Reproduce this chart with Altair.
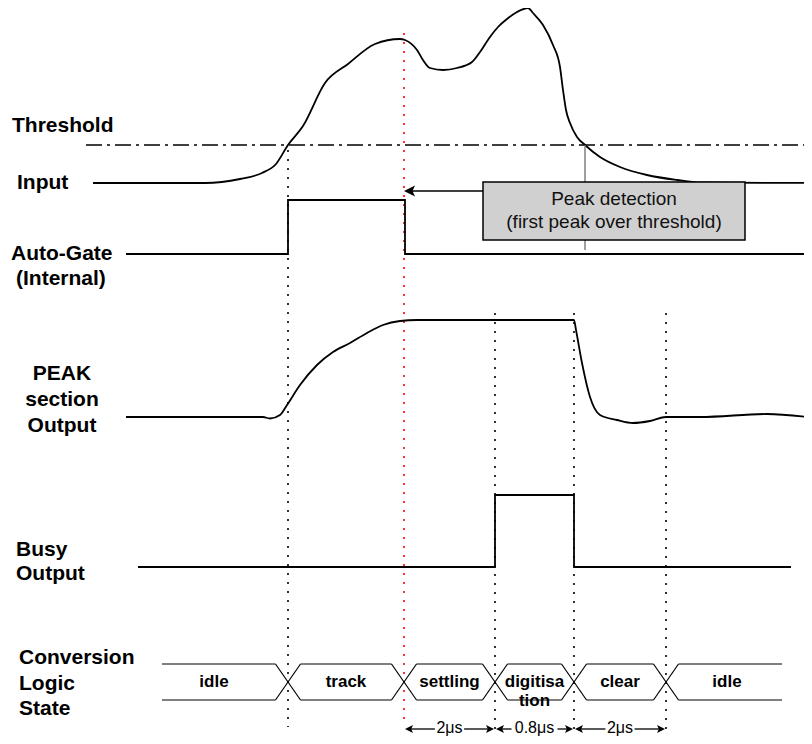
import altair as alt
import pandas as pd

FONT = "Liberation Sans"

# ---------------- data ----------------
# Input signal (time, level)
input_t = [93, 205, 240, 262, 276, 288, 303, 325, 348, 375, 400, 405, 417, 423, 430, 443,
           457, 472, 480, 490, 498, 507, 517, 528, 533, 543, 553, 560, 563, 566, 570, 577,
           585, 600, 620, 647, 677, 700, 812]
input_v = [183, 183, 179, 173, 164, 145, 126, 83, 64, 44, 39, 40, 50, 60, 68, 70,
           68, 62, 52, 37, 27, 19, 12, 8, 13, 25, 45, 67, 90, 110, 123, 137,
           145, 157, 167, 175, 180, 182.5, 183]

threshold_level = 145
threshold_from, threshold_to = 86, 812

# Auto-Gate (internal)
gate_t = [126, 288, 288, 405, 405, 807]
gate_v = [254, 254, 200, 200, 254, 254]

# PEAK section output
peak_t = [126, 263, 270, 280, 287, 300, 317, 333, 350, 367, 383, 400, 417, 574, 576, 582,
          590, 600, 617, 633, 650, 666, 700, 767, 807]
peak_v = [417, 417, 418.5, 415, 405, 385, 365, 352, 343, 333, 325, 321, 320, 320, 330, 363,
          397, 415, 420, 423, 421, 417, 417, 414, 417]

# Busy output
busy_t = [138, 495, 495, 574, 574, 791]
busy_v = [567, 567, 495, 495, 567, 567]

# Conversion logic states
state_names = ["idle", "track", "settling", "digitisa\ntion", "clear", "idle"]
state_edges = [162, 288, 404, 495, 574, 666, 782]
bus_top, bus_bottom = 664, 700

# Event markers
black_marks_t = [288, 495, 574, 666]
black_marks_top = [150, 313, 313, 313]
black_marks_bottom = [727, 735, 735, 735]
red_mark_t, red_mark_top, red_mark_bottom = 404, 33, 725

# Peak detection annotation
detect_t = 585
detect_from, detect_to = 145, 250
box_t = [483, 745]
box_v = [182, 240]
box_lines = ["Peak detection", "(first peak over threshold)"]
box_line_v = [199, 222]
arrow_v = 191
arrow_tip = 404

# Timing intervals
timing_from = [404, 495, 574]
timing_to = [495, 574, 666]
timing_labels = ["2\u03bcs", "0.8\u03bcs", "2\u03bcs"]
timing_v = 729
timing_text_v = 733

# Row labels
row_labels = ["Threshold", "Input", "Auto-Gate", "(Internal)"]
row_labels_x = [12, 17, 11, 16]
row_labels_y = [126, 183, 254, 279]
peak_labels = ["PEAK", "section", "Output"]
peak_labels_y = [374, 400, 426]
busy_labels = ["Busy", "Output"]
busy_labels_y = [550, 574]
conv_labels = ["Conversion", "Logic", "State"]
conv_labels_y = [658, 684, 709]

# ---------------- helpers ----------------
XS = alt.Scale(domain=[8, 804], nice=False, zero=False)
YS = alt.Scale(domain=[8, 736], nice=False, zero=False, reverse=True)


def X(f="x"):
    return alt.X(f"{f}:Q", scale=XS, axis=None)


def Y(f="y"):
    return alt.Y(f"{f}:Q", scale=YS, axis=None)


def series(t, v):
    return pd.DataFrame({"x": t, "y": v, "i": range(len(t))})


def line(df, interp="linear", width=1.8, color="black", **kw):
    return alt.Chart(df).mark_line(interpolate=interp, strokeWidth=width, color=color, **kw).encode(
        x=X(), y=Y(), order=alt.Order("i:Q"))


layers = []

# threshold
thr = pd.DataFrame({"x": [threshold_from], "x2": [threshold_to], "y": [threshold_level]})
layers.append(alt.Chart(thr).mark_rule(color="black", strokeWidth=1.4, strokeDash=[16, 5, 3, 5]).encode(
    x=X(), x2=alt.X2("x2:Q"), y=Y()))

# dotted event markers
marks = pd.DataFrame({"x": black_marks_t + [red_mark_t],
                      "y": black_marks_top + [red_mark_top],
                      "y2": black_marks_bottom + [red_mark_bottom],
                      "c": ["black"] * len(black_marks_t) + ["red"]})
layers.append(alt.Chart(marks).mark_rule(strokeWidth=1.6, strokeDash=[2, 7]).encode(
    x=X(), y=Y(), y2=alt.Y2("y2:Q"), color=alt.Color("c:N", scale=None)))

# input curve
layers.append(line(series(input_t, input_v), interp="monotone", width=1.8))

# detection line
det = pd.DataFrame({"x": [detect_t], "y": [detect_from], "y2": [detect_to]})
layers.append(alt.Chart(det).mark_rule(color="#777777", strokeWidth=1.4).encode(
    x=X(), y=Y(), y2=alt.Y2("y2:Q")))

# box
box = pd.DataFrame({"x": [box_t[0]], "x2": [box_t[1]], "y": [box_v[0]], "y2": [box_v[1]]})
layers.append(alt.Chart(box).mark_rect(fill="#d0d0d0", stroke="black", strokeWidth=1.5).encode(
    x=X(), x2=alt.X2("x2:Q"), y=Y(), y2=alt.Y2("y2:Q")))
boxtxt = pd.DataFrame({"x": [(box_t[0] + box_t[1]) / 2] * 2, "y": box_line_v, "t": box_lines})
layers.append(alt.Chart(boxtxt).mark_text(font=FONT, fontSize=19, color="#111111", baseline="middle",
                                          align="center").encode(x=X(), y=Y(), text="t:N"))

# arrow from box to peak
arr = pd.DataFrame({"x": [box_t[0]], "x2": [arrow_tip + 8], "y": [arrow_v]})
layers.append(alt.Chart(arr).mark_rule(color="black", strokeWidth=1.6).encode(
    x=X(), x2=alt.X2("x2:Q"), y=Y()))
LEFT = "M-1,0L1,-1L0.55,0L1,1Z"
RIGHT = "M1,0L-1,-1L-0.55,0L-1,1Z"
arrh = pd.DataFrame({"x": [arrow_tip + 5.5], "y": [arrow_v]})
layers.append(alt.Chart(arrh).mark_point(shape=LEFT, filled=True, size=121, color="black", opacity=1,
                                         strokeWidth=0).encode(x=X(), y=Y()))

# auto-gate, peak output, busy
layers.append(line(series(gate_t, gate_v), width=1.8))
layers.append(line(series(peak_t, peak_v), interp="monotone", width=1.8))
layers.append(line(series(busy_t, busy_v), width=1.8))

# bus (conversion logic state)
H = 12.5
rows = []
seg = 0
n = len(state_edges)
for k in range(n - 1):
    a = state_edges[k] + (H if k > 0 else 0)
    b = state_edges[k + 1] - (H if k + 1 < n - 1 else 0)
    for yy in (bus_top, bus_bottom):
        rows += [{"x": a, "y": yy, "s": seg, "i": 0}, {"x": b, "y": yy, "s": seg, "i": 1}]
        seg += 1
for e in state_edges[1:-1]:
    rows += [{"x": e - H, "y": bus_top, "s": seg, "i": 0}, {"x": e + H, "y": bus_bottom, "s": seg, "i": 1}]
    seg += 1
    rows += [{"x": e - H, "y": bus_bottom, "s": seg, "i": 0}, {"x": e + H, "y": bus_top, "s": seg, "i": 1}]
    seg += 1
bus = pd.DataFrame(rows)
layers.append(alt.Chart(bus).mark_line(color="black", strokeWidth=1.2).encode(
    x=X(), y=Y(), detail="s:N", order=alt.Order("i:Q")))

st = pd.DataFrame({"x": [(state_edges[k] + state_edges[k + 1]) / 2 for k in range(n - 1)],
                   "y": [(bus_top + bus_bottom) / 2] * (n - 1),
                   "t": state_names})
st.loc[0, "x"] = 214
st.loc[n - 2, "x"] = 727
layers.append(alt.Chart(st).mark_text(font=FONT, fontSize=17, fontWeight="bold", baseline="middle",
                                      align="center", lineBreak="\n", lineHeight=19, color="black").encode(
    x=X(), y=Y(), text="t:N"))

# timing arrows
trows, heads_l, heads_r, tl = [], [], [], []
for a, b, lab in zip(timing_from, timing_to, timing_labels):
    c = (a + b) / 2
    half = 4.2 * len(lab) + 2
    trows += [{"x": a + 3, "x2": c - half}, {"x": c + half, "x2": b - 3}]
    heads_l.append(a + 1 + 4)
    heads_r.append(b - 1 - 4)
    tl.append({"x": c, "t": lab})
tr = pd.DataFrame(trows)
tr["y"] = timing_v
layers.append(alt.Chart(tr).mark_rule(color="black", strokeWidth=1.3).encode(
    x=X(), x2=alt.X2("x2:Q"), y=Y()))
layers.append(alt.Chart(pd.DataFrame({"x": heads_l, "y": [timing_v] * 3})).mark_point(
    shape=LEFT, filled=True, size=64, color="black", opacity=1, strokeWidth=0).encode(x=X(), y=Y()))
layers.append(alt.Chart(pd.DataFrame({"x": heads_r, "y": [timing_v] * 3})).mark_point(
    shape=RIGHT, filled=True, size=64, color="black", opacity=1, strokeWidth=0).encode(x=X(), y=Y()))
tlab = pd.DataFrame(tl)
tlab["y"] = timing_text_v
layers.append(alt.Chart(tlab).mark_text(font=FONT, fontSize=16, baseline="alphabetic", align="center",
                                        color="black").encode(x=X(), y=Y(), text="t:N"))

# row labels
lab_style = dict(font=FONT, fontSize=21, fontWeight="bold", baseline="middle", color="black")
l1 = pd.DataFrame({"x": row_labels_x, "y": row_labels_y, "t": row_labels})
layers.append(alt.Chart(l1).mark_text(align="left", **lab_style).encode(x=X(), y=Y(), text="t:N"))
l2 = pd.DataFrame({"x": [62] * 3, "y": peak_labels_y, "t": peak_labels})
layers.append(alt.Chart(l2).mark_text(align="center", **lab_style).encode(x=X(), y=Y(), text="t:N"))
l3 = pd.DataFrame({"x": [16] * 2, "y": busy_labels_y, "t": busy_labels})
layers.append(alt.Chart(l3).mark_text(align="left", **lab_style).encode(x=X(), y=Y(), text="t:N"))
l4 = pd.DataFrame({"x": [19] * 3, "y": conv_labels_y, "t": conv_labels})
layers.append(alt.Chart(l4).mark_text(align="left", **lab_style).encode(x=X(), y=Y(), text="t:N"))

chart = alt.layer(*layers).properties(width=796, height=728, padding=0, autosize="none",
                                      background="white").configure_view(stroke=None)

chart.save("out.html", embed_options={"renderer": "svg", "actions": False})
